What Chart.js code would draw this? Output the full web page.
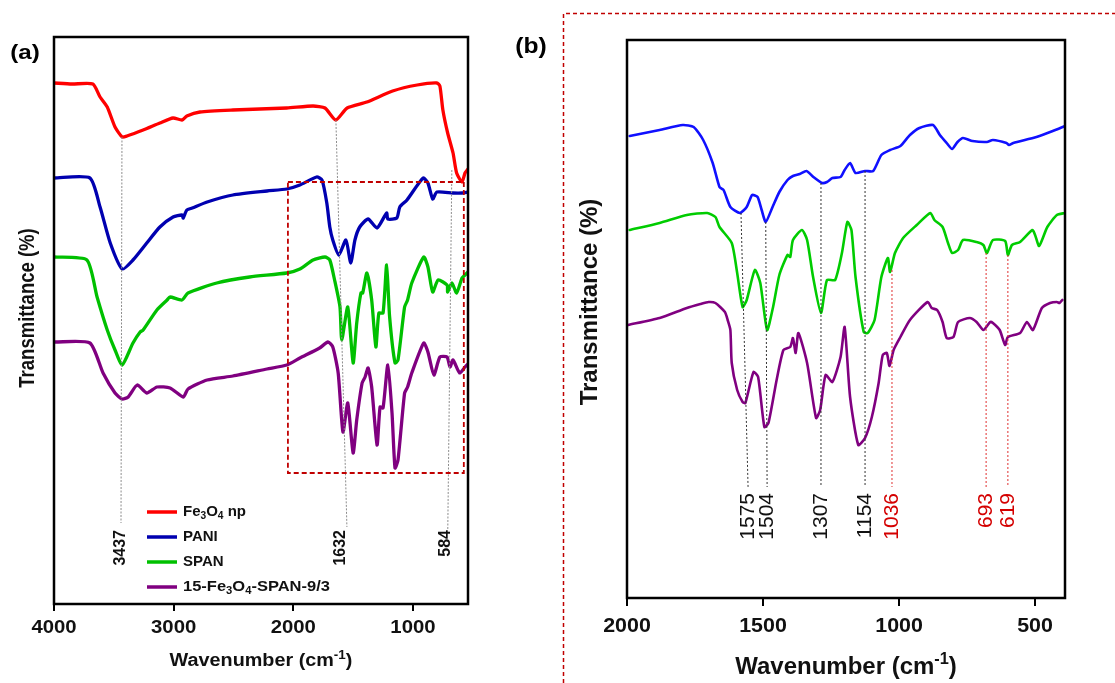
<!DOCTYPE html>
<html><head><meta charset="utf-8">
<script src="https://cdn.jsdelivr.net/npm/chart.js@4.4.1/dist/chart.umd.min.js"></script>
<style>
html,body{margin:0;padding:0;background:#fff;width:1115px;height:683px;overflow:hidden}
#wa{position:absolute;left:0;top:0;width:500px;height:683px}
#wb{position:absolute;left:500px;top:0;width:615px;height:683px}
</style></head><body>
<div id="wa"><canvas id="ca"></canvas></div>
<div id="wb"><canvas id="cb"></canvas></div>
<script>
// ---------- DATA (wavenumber cm-1, transmittance in arbitrary offset units) ----------
// Panel (a)
const ticksA = [4000, 3000, 2000, 1000];
const fe3o4A = [[4000,521],[3850,520],[3675,520],[3615,507],[3555,497],[3490,477],[3430,467],[3390,468],[3255,474],[3115,481],[3005,486],[2930,484],[2890,488],[2780,492],[2505,494],[2055,496],[1835,498],[1735,496],[1645,484],[1550,496],[1385,502],[1170,513],[965,519],[800,521],[775,518],[750,494],[710,471],[665,451],[635,431],[590,422],[565,431],[540,435]];
const paniA = [[4000,426],[3700,426],[3615,397],[3530,361],[3430,335],[3340,344],[3225,361],[3115,377],[3005,387],[2930,389],[2920,386],[2890,394],[2845,396],[2720,402],[2505,409],[2220,413],[2055,415],[1945,419],[1805,427],[1760,424],[1720,401],[1695,377],[1670,364],[1620,349],[1560,364],[1520,341],[1485,364],[1445,377],[1375,385],[1300,376],[1220,391],[1210,385],[1135,386],[1110,397],[1050,404],[915,426],[875,421],[835,405],[800,412],[665,411],[590,411],[540,412]];
const spanA = [[4000,347],[3725,344],[3640,307],[3555,274],[3490,254],[3430,239],[3340,261],[3280,272],[3255,274],[3140,294],[3055,304],[3030,307],[2930,304],[2880,311],[2640,321],[2365,327],[2055,331],[1945,335],[1835,344],[1735,347],[1695,344],[1655,324],[1610,297],[1595,264],[1545,297],[1500,241],[1470,281],[1435,311],[1420,311],[1385,331],[1345,304],[1310,257],[1285,291],[1250,291],[1220,339],[1195,287],[1150,241],[1125,244],[1070,297],[1045,304],[1010,321],[910,347],[875,337],[835,312],[790,324],[715,319],[710,312],[675,321],[635,311],[590,326],[565,329],[540,332]];
const compA = [[4000,262],[3700,261],[3590,231],[3490,211],[3430,205],[3380,207],[3305,219],[3225,211],[3140,217],[3030,216],[2920,207],[2880,215],[2720,224],[2505,228],[2220,235],[2055,239],[1945,246],[1780,256],[1710,262],[1670,257],[1625,231],[1585,172],[1545,201],[1500,151],[1470,184],[1425,221],[1400,227],[1375,236],[1345,217],[1300,159],[1275,197],[1250,196],[1210,239],[1175,191],[1150,136],[1125,144],[1070,211],[1045,217],[1010,231],[910,261],[875,252],[825,229],[775,247],[715,247],[690,237],[665,244],[610,231],[565,237],[540,240]];
const legendLabels = ['Fe_3O_4 np', 'PANI', 'SPAN', '15-Fe_3O_4-SPAN-9/3'];
const peaksA = [
  {label:'3437', top:[3432,467], bottom:[3440,81], at:3448, labelTop:74},
  {label:'1632', top:[1644,484], bottom:[1552,77], at:1610, labelTop:74},
  {label:'584',  top:[675,434],  bottom:[709,74],  at:733,  labelTop:74}
];
const zoomBoxA = {from:2045, to:575, top:422, bottom:131};

// Panel (b)
const ticksB = [2000, 1500, 1000, 500];
const paniB = [[1990,462],[1880,468],[1795,473],[1755,471],[1720,458],[1685,435],[1660,411],[1645,408],[1620,391],[1585,385],[1560,391],[1540,403],[1520,401],[1505,388],[1490,376],[1465,391],[1440,406],[1410,418],[1390,422],[1365,424],[1340,427],[1315,421],[1283,415],[1265,416],[1245,420],[1215,421],[1200,428],[1180,435],[1160,425],[1125,427],[1095,427],[1065,443],[1033,448],[995,452],[960,463],[925,470],[875,473],[850,463],[825,455],[805,449],[785,456],[765,460],[730,457],[677,456],[655,458],[605,455],[596,453],[580,455],[495,461],[435,467],[390,472]];
const spanB = [[1990,368],[1880,375],[1780,383],[1705,385],[1675,381],[1660,371],[1615,355],[1595,325],[1575,291],[1560,298],[1530,328],[1510,315],[1485,268],[1463,291],[1440,323],[1410,343],[1400,341],[1390,358],[1357,368],[1338,358],[1316,321],[1287,285],[1265,318],[1235,318],[1210,345],[1190,376],[1175,368],[1160,321],[1130,266],[1115,265],[1090,278],[1065,321],[1041,340],[1033,326],[1015,345],[985,360],[935,373],[885,385],[870,378],[840,371],[820,355],[805,345],[783,348],[765,358],[715,356],[690,353],[677,345],[655,358],[610,357],[600,343],[585,353],[555,356],[510,368],[500,363],[485,352],[455,371],[420,383],[390,385]];
const compB = [[1996,273],[1880,280],[1780,290],[1730,294],[1700,296],[1675,295],[1640,286],[1630,278],[1620,268],[1615,235],[1595,208],[1575,196],[1565,195],[1535,226],[1518,221],[1495,171],[1480,175],[1450,218],[1425,248],[1400,251],[1390,260],[1380,245],[1370,265],[1338,235],[1305,180],[1290,188],[1270,223],[1245,216],[1215,241],[1200,271],[1180,201],[1150,153],[1125,160],[1100,181],[1075,215],[1060,243],[1045,245],[1035,232],[1020,248],[995,261],[960,278],[895,296],[880,290],[860,288],[840,276],[825,260],[800,261],[783,276],[740,280],[715,276],[690,268],[665,276],[655,275],[630,268],[610,253],[600,261],[555,265],[530,276],[508,268],[475,290],[445,295],[420,296],[410,295],[400,298]];
const peaksB = [
  {label:'1575', top:[1581,385], bottom:[1555,111], red:false},
  {label:'1504', top:[1490,376], bottom:[1485,111], red:false},
  {label:'1307', top:[1287,415], bottom:[1287,111], red:false},
  {label:'1154', top:[1125,427], bottom:[1125,111], red:false},
  {label:'1036', top:[1026,328], bottom:[1026,111], red:true},
  {label:'693',  top:[680,345],  bottom:[680,111],  red:true},
  {label:'619',  top:[600,343],  bottom:[600,111],  red:true}
];
const peakLabelTopB = 105;

// ---------- helpers ----------
const FAM = '"Liberation Sans", Arial, Helvetica, sans-serif';
function toXY(arr){ return arr.map(p => ({x:p[0], y:p[1]})); }
function parseRich(s){
  const out=[]; const re=/(_\{[^}]*\}|\^\{[^}]*\}|_.|[^_^]+)/g; let m;
  while((m=re.exec(s))){ const t=m[0];
    if(t.startsWith('_{')) out.push({t:t.slice(2,-1),k:'sub'});
    else if(t.startsWith('^{')) out.push({t:t.slice(2,-1),k:'sup'});
    else if(t[0]==='_') out.push({t:t.slice(1),k:'sub'});
    else out.push({t:t,k:'n'}); }
  return out;
}
const SUB = 0.68;
function richWidth(ctx, segs, size, weight){
  let w=0; segs.forEach(s=>{ const sz = s.k==='n'?size:size*SUB; ctx.font=weight+' '+sz+'px '+FAM; w+=ctx.measureText(s.t).width; }); return w;
}
// draws text (with _sub and ^{sup}) with optional horizontal stretch sx
function drawRich(ctx, str, x, y, size, weight, color, align, sx){
  sx = sx || 1;
  const segs=parseRich(str); const w=richWidth(ctx,segs,size,weight);
  ctx.save(); ctx.translate(x,y); ctx.scale(sx,1);
  let cx = align==='center' ? -w/2 : 0;
  ctx.fillStyle=color; ctx.textBaseline='middle'; ctx.textAlign='left';
  segs.forEach(s=>{ const sz = s.k==='n'?size:size*SUB; ctx.font=weight+' '+sz+'px '+FAM;
    const dy = s.k==='sub'? size*0.28 : (s.k==='sup'? -size*0.32 : 0);
    ctx.fillText(s.t, cx, dy); cx+=ctx.measureText(s.t).width; });
  ctx.restore();
}
// vertical text reading bottom-to-top; sx stretches glyph thickness (screen-horizontal)
function vText(ctx, text, x, y, font, color, align, sx){
  ctx.save(); ctx.translate(x,y); ctx.rotate(-Math.PI/2); ctx.scale(1, sx||1);
  ctx.font=font; ctx.fillStyle=color; ctx.textAlign=align; ctx.textBaseline='middle';
  ctx.fillText(text,0,0); ctx.restore();
}

function baseOptions(o){
  return {
    responsive:true, maintainAspectRatio:false, animation:false, events:[],
    layout:{padding:o.padding},
    plugins:{legend:{display:false}, tooltip:{enabled:false}},
    elements:{point:{radius:0}, line:{tension:0.2, borderJoinStyle:'round', borderCapStyle:'round'}},
    scales:{
      x:{type:'linear', reverse:true, min:o.xmin, max:o.xmax,
        afterBuildTicks:(s)=>{ s.ticks = o.ticks.map(v=>({value:v})); },
        afterFit:(s)=>{ s.height=o.xh; },
        ticks:{display:false},
        grid:{display:true, drawOnChartArea:false, drawTicks:true, tickLength:o.tl, color:'#000', lineWidth:2},
        border:{display:false}},
      y:{type:'linear', min:0, max:o.ymax,
        afterFit:(s)=>{ s.width=o.yw; },
        ticks:{display:false}, grid:{display:false}, border:{display:false}}
    }
  };
}

// ---------- Panel (a) ----------
const colorsA = ['#ff0000','#0000b0','#00c000','#800080'];
const seriesA = [fe3o4A, paniA, spanA, compA];
const plugA = {
  id:'plugA',
  afterDatasetsDraw(chart){
    const {ctx, chartArea:ca, scales:{x,y}} = chart;
    ctx.save();
    // peak guide lines
    ctx.setLineDash([2,1.5]); ctx.strokeStyle='#8c8c8c'; ctx.lineWidth=1;
    peaksA.forEach(p=>{ ctx.beginPath();
      ctx.moveTo(x.getPixelForValue(p.top[0]), y.getPixelForValue(p.top[1]));
      ctx.lineTo(x.getPixelForValue(p.bottom[0]), y.getPixelForValue(p.bottom[1])); ctx.stroke(); });
    ctx.setLineDash([]);
    peaksA.forEach(p=>{ vText(ctx, p.label, x.getPixelForValue(p.at), y.getPixelForValue(p.labelTop), 'bold 16px '+FAM, '#111', 'right', 1.08); });
    // dashed zoom box
    ctx.setLineDash([5,3]); ctx.strokeStyle='#c00000'; ctx.lineWidth=1.8;
    const bx1=x.getPixelForValue(zoomBoxA.from), bx2=x.getPixelForValue(zoomBoxA.to);
    const by1=y.getPixelForValue(zoomBoxA.top), by2=y.getPixelForValue(zoomBoxA.bottom);
    ctx.strokeRect(bx1,by1,bx2-bx1,by2-by1);
    ctx.setLineDash([]);
    // frame
    ctx.strokeStyle='#000'; ctx.lineWidth=2.5;
    ctx.strokeRect(ca.left, ca.top, ca.right-ca.left, ca.bottom-ca.top);
    // legend
    const lx0=147, lx1=177, tx=183, ly=[512,537,562,587];
    legendLabels.forEach((lab,i)=>{
      ctx.strokeStyle=colorsA[i]; ctx.lineWidth=3.5; ctx.lineCap='butt';
      ctx.beginPath(); ctx.moveTo(lx0,ly[i]); ctx.lineTo(lx1,ly[i]); ctx.stroke();
      drawRich(ctx, lab, tx, ly[i], 15, 'bold', '#111', 'left', i===3?1.1:1);
    });
    // tick labels
    ticksA.forEach(v=> drawRich(ctx, String(v), x.getPixelForValue(v), 628, 18, 'bold', '#111', 'center', 1.13));
    // titles
    drawRich(ctx, '(a)', 25, 53, 21, 'bold', '#000', 'center', 1.15);
    vText(ctx, 'Transmittance (%)', 28, 308, 'bold 18.5px '+FAM, '#111', 'center', 1.15);
    drawRich(ctx, 'Wavenumber (cm^{-1})', (ca.left+ca.right)/2, 661, 18, 'bold', '#111', 'center', 1.1);
    ctx.restore();
  }
};
new Chart(document.getElementById('ca'), {
  type:'line',
  data:{datasets: seriesA.map((s,i)=>({label:legendLabels[i], data:toXY(s), borderColor:colorsA[i], borderWidth:3.3, fill:false}))},
  options: baseOptions({padding:{left:0,top:37,right:32,bottom:0}, xmin:540, xmax:4000, ticks:ticksA, xh:79, yw:54, ymax:567, tl:7}),
  plugins:[plugA]
});

// ---------- Panel (b) ----------
const colorsB = ['#1010ff','#00cc00','#800080'];
const seriesB = [paniB, spanB, compB];
const plugB = {
  id:'plugB',
  afterDatasetsDraw(chart){
    const {ctx, chartArea:ca, scales:{x,y}} = chart;
    ctx.save();
    ctx.lineWidth=1; ctx.setLineDash([2,2]);
    peaksB.forEach(p=>{ ctx.strokeStyle = p.red ? '#e03030' : '#333'; ctx.beginPath();
      ctx.moveTo(x.getPixelForValue(p.top[0]), y.getPixelForValue(p.top[1]));
      ctx.lineTo(x.getPixelForValue(p.bottom[0]), y.getPixelForValue(p.bottom[1])); ctx.stroke(); });
    ctx.setLineDash([]);
    peaksB.forEach(p=>{ vText(ctx, p.label, x.getPixelForValue(p.bottom[0]), y.getPixelForValue(peakLabelTopB), '21px '+FAM, p.red?'#d40000':'#111', 'right', 1); });
    ctx.strokeStyle='#000'; ctx.lineWidth=2.5;
    ctx.strokeRect(ca.left, ca.top, ca.right-ca.left, ca.bottom-ca.top);
    // tick labels
    ticksB.forEach(v=> drawRich(ctx, String(v), x.getPixelForValue(v), 626, 21, 'bold', '#111', 'center', 1.02));
    // outer dashed frame
    ctx.strokeStyle='#c00000'; ctx.lineWidth=1.5; ctx.setLineDash([4,3]);
    ctx.beginPath(); ctx.moveTo(63.5, chart.height); ctx.lineTo(63.5, 13.5); ctx.lineTo(chart.width, 13.5); ctx.stroke();
    ctx.setLineDash([]);
    drawRich(ctx, '(b)', 31, 47, 22, 'bold', '#000', 'center', 1.12);
    vText(ctx, 'Transmittance (%)', 90, 302, 'bold 24px '+FAM, '#111', 'center', 1);
    drawRich(ctx, 'Wavenumber (cm^{-1})', (ca.left+ca.right)/2, 667, 24, 'bold', '#111', 'center', 1);
    ctx.restore();
  }
};
new Chart(document.getElementById('cb'), {
  type:'line',
  data:{datasets: seriesB.map((s,i)=>({label:legendLabels[i+1], data:toXY(s), borderColor:colorsB[i], borderWidth:2.6, fill:false}))},
  options: baseOptions({padding:{left:0,top:40,right:50,bottom:0}, xmin:390, xmax:2000, ticks:ticksB, xh:85, yw:127, ymax:558, tl:8}),
  plugins:[plugB]
});
</script>
</body></html>
